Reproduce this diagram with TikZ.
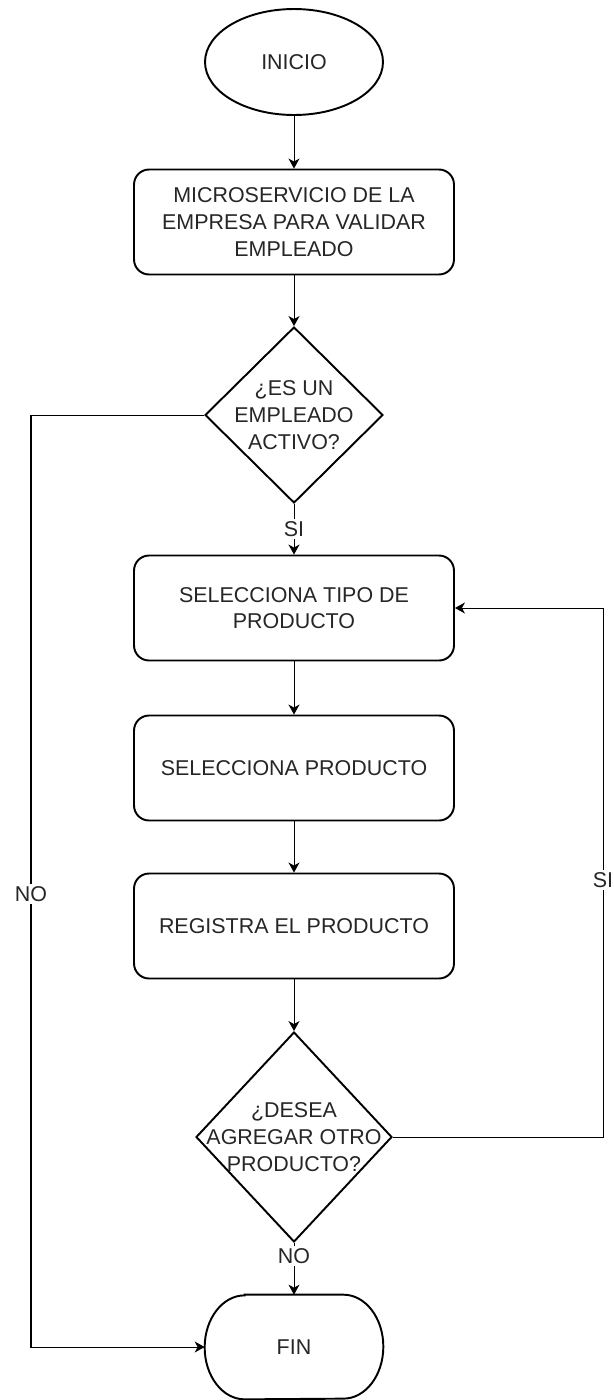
\documentclass[tikz,border=0pt]{standalone}
\usepackage{fontspec}
\setmainfont{Liberation Sans}
\usetikzlibrary{shapes.geometric,arrows.meta}
\tikzset{
  every node/.style={font=\fontsize{12.2pt}{15.2pt}\selectfont, text=black!85},
  terminal/.style={ellipse, draw, line width=1.1pt, minimum width=3.56cm, minimum height=2.12cm, inner sep=0pt},
  terminalend/.style={rectangle, minimum width=3.56cm, minimum height=2.08cm, inner sep=0pt},
  process/.style={rectangle, draw, rounded corners=0.3cm, line width=1.1pt, minimum width=6.4cm, minimum height=2.1cm, align=center, inner sep=0pt},
  decision/.style={diamond, draw, line width=1.1pt, inner sep=0pt},
  decisiontext/.style={align=center, inner sep=0pt},
  flow/.style={-{Stealth[length=0.2cm,width=0.22cm,inset=0.06cm]}, line width=0.57pt, black},
  edgelabel/.style={fill=white, inner sep=1.5pt}
}
\begin{document}
\begin{tikzpicture}[x=0.02cm, y=-0.02cm]
  \useasboundingbox (0,0) rectangle (614,1400);
  % nodos
  \node[terminal] (inicio) at (294,62) {INICIO};
  \node[process] (micro) at (294,222) {MICROSERVICIO DE LA\\EMPRESA PARA VALIDAR\\EMPLEADO};
  \node[decision, minimum width=3.56cm, minimum height=3.52cm,
        label={[decisiontext]center:{¿ES UN\\EMPLEADO\\ACTIVO?}}] (valida) at (294,415) {};
  \node[process] (tipo) at (294,608) {SELECCIONA TIPO DE\\PRODUCTO};
  \node[process] (producto) at (294,768) {SELECCIONA PRODUCTO};
  \node[process] (registra) at (294,926) {REGISTRA EL PRODUCTO};
  \node[decision, minimum width=3.92cm, minimum height=4.2cm,
        label={[decisiontext]center:{¿DESEA\\AGREGAR OTRO\\PRODUCTO?}}] (agrega) at (294,1137) {};
  \node[terminalend] (fin) at (294,1347) {FIN};
  \draw[line width=1.1pt]
    ([xshift=0.8cm]fin.north west) -- ([xshift=-0.8cm]fin.north east)
    arc[start angle=90, end angle=-90, x radius=0.8cm, y radius=1.04cm]
    -- ([xshift=0.8cm]fin.south west)
    arc[start angle=270, end angle=90, x radius=0.8cm, y radius=1.04cm] -- cycle;
  \coordinate (izq) at (31,1347);
  \coordinate (der) at (603,608);
  % conectores
  \begin{scope}[flow]
    \draw (inicio) -- (micro);
    \draw (micro) -- (valida);
    \draw (valida) -- node[edgelabel] {SI} (tipo);
    \draw (tipo) -- (producto);
    \draw (producto) -- (registra);
    \draw (registra) -- (agrega);
    \draw (agrega) -- node[edgelabel, pos=0.25] {NO} (fin);
    \draw (valida.west) -| node[edgelabel, pos=0.757] {NO} (izq) -- (fin.west);
    \draw (agrega.east) -| node[edgelabel, pos=0.743] {SI} (der) -- (tipo.east);
  \end{scope}
\end{tikzpicture}
\end{document}
